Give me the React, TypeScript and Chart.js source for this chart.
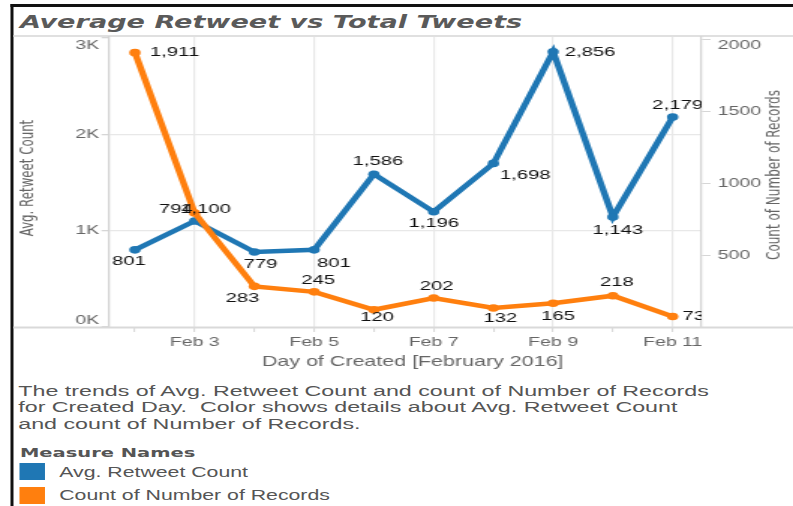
import React, { useEffect, useRef } from 'react';
import { Chart, registerables } from 'chart.js';

Chart.register(...registerables);

// ---- data ----
const days = [2, 3, 4, 5, 6, 7, 8, 9, 10, 11];
const avgRetweet = [801, 1100, 779, 801, 1586, 1196, 1698, 2856, 1143, 2179];
const recordCount = [1911, 794, 283, 245, 120, 202, 132, 165, 218, 73];
const xTickDays = [3, 5, 7, 9, 11];
const monthLabel = 'Feb';
const leftTicks = [0, 1000, 2000, 3000];
const leftTickLabels = ['0K', '1K', '2K', '3K'];
const rightTicks = [500, 1000, 1500, 2000];
const rightTickLabels = ['500', '1000', '1500', '2000'];

const titleText = 'Average Retweet vs Total Tweets';
const xTitle = 'Day of Created [February 2016]';
const yTitle = 'Avg. Retweet Count';
const y1Title = 'Count of Number of Records';
const descLines = [
  'The trends of Avg. Retweet Count and count of Number of Records',
  'for Created Day.  Color shows details about Avg. Retweet Count',
  'and count of Number of Records.',
];
const legendTitle = 'Measure Names';
const seriesNames = ['Avg. Retweet Count', 'Count of Number of Records'];

// label placement (dx, dy) relative to each point
const avgLabelOffsets = [[-4, 11], [7.3, -12], [4, 12], [13.3, 13], [2.7, -13], [0, 12], [21.3, 12], [24.7, 0], [3.3, 13], [3.3, -12]];
const countLabelOffsets = [[26.5, 0], [-12.7, -4], [-8, 12], [2.7, -12], [2, 8], [2, -12], [4.7, 10], [3.3, 13], [2.7, -13], [14, 0]];

const BLUE = '#1f77b4';
const ORANGE = '#ff7f0e';
const W = 529;
const S = 793 / W;
const FONT = '"Liberation Sans", Arial, sans-serif';
const WIDE = '"DejaVu Sans", Verdana, sans-serif';

const clamp = (v: number, a: number, b: number) => Math.max(a, Math.min(b, v));

const overlay = {
  id: 'overlay',
  afterDatasetsDraw(chart: any) {
    const ctx = chart.ctx;
    const a = chart.chartArea;
    ctx.save();
    ctx.beginPath();
    ctx.rect(a.left, a.top, a.right - a.left, a.bottom - a.top);
    ctx.clip();
    ctx.font = `13.5px ${FONT}`;
    ctx.fillStyle = '#111';
    ctx.textAlign = 'center';
    ctx.textBaseline = 'middle';
    chart.data.datasets.forEach((ds: any, di: number) => {
      const meta = chart.getDatasetMeta(di);
      const offs = ds.labelOffsets;
      meta.data.forEach((pt: any, i: number) => {
        const v = ds.data[i].y;
        ctx.fillText(v.toLocaleString('en-US'), pt.x + offs[i][0], pt.y + offs[i][1]);
      });
    });
    ctx.restore();
  },
  afterDraw(chart: any) {
    const ctx = chart.ctx;
    const a = chart.chartArea;
    ctx.save();
    // bottom rule across the whole view
    ctx.fillStyle = '#d9d9d9';
    ctx.fillRect(9, a.bottom - 0.5, W - 9, 2);
    // y tick labels
    ctx.font = `13px ${FONT}`;
    ctx.fillStyle = '#666';
    ctx.textBaseline = 'middle';
    ctx.textAlign = 'right';
    const ys = chart.scales.y;
    leftTicks.forEach((v, i) => {
      const p = clamp(ys.getPixelForValue(v), a.top + 8, a.bottom - 7);
      ctx.fillText(leftTickLabels[i], a.left - 6.5, p);
    });
    ctx.textAlign = 'left';
    const y1 = chart.scales.y1;
    rightTicks.forEach((v, i) => {
      const p = clamp(y1.getPixelForValue(v), a.top + 8, a.bottom - 7);
      ctx.fillText(rightTickLabels[i], a.right + 10.7, p);
    });
    // axis titles
    ctx.textAlign = 'center';
    ctx.font = `14.3px ${FONT}`;
    ctx.fillText(xTitle, 275.3, 362);
    ctx.font = `11.8px ${WIDE}`;
    ctx.save();
    ctx.translate(18.7, 178);
    ctx.rotate(-Math.PI / 2);
    ctx.fillText(yTitle, 0, 0);
    ctx.restore();
    ctx.font = `12px ${WIDE}`;
    ctx.save();
    ctx.translate(516.7, 175);
    ctx.rotate(-Math.PI / 2);
    ctx.fillText(y1Title, 0, 0);
    ctx.restore();
    ctx.restore();
  },
};

export default function App() {
  const ref = useRef<HTMLCanvasElement>(null);
  useEffect(() => {
    const config: any = {
      type: 'line',
      data: {
        datasets: [
          {
            label: seriesNames[0],
            data: days.map((d, i) => ({ x: d, y: avgRetweet[i] })),
            yAxisID: 'y',
            borderColor: BLUE,
            backgroundColor: BLUE,
            pointBackgroundColor: BLUE,
            pointBorderWidth: 0,
            pointRadius: 3.8,
            borderWidth: 4.5,
            tension: 0,
            order: 1,
            labelOffsets: avgLabelOffsets,
          },
          {
            label: seriesNames[1],
            data: days.map((d, i) => ({ x: d, y: recordCount[i] })),
            yAxisID: 'y1',
            borderColor: ORANGE,
            backgroundColor: ORANGE,
            pointBackgroundColor: ORANGE,
            pointBorderWidth: 0,
            pointRadius: 3.8,
            borderWidth: 4.5,
            tension: 0,
            order: 0,
            labelOffsets: countLabelOffsets,
          },
        ],
      },
      options: {
        responsive: false,
        animation: false,
        devicePixelRatio: 1,
        events: [],
        layout: { padding: { left: 9, top: 37, right: 0, bottom: 0 } },
        plugins: { legend: { display: false }, tooltip: { enabled: false }, title: { display: false } },
        scales: {
          x: {
            type: 'linear',
            min: 1.566,
            max: 11.484,
            afterBuildTicks: (s: any) => { s.ticks = days.map((v) => ({ value: v })); },
            afterFit: (s: any) => { s.height = 53; },
            ticks: {
              autoSkip: false,
              maxRotation: 0,
              padding: 3,
              color: '#666',
              font: { size: 13, family: FONT },
              callback: (v: any) => (xTickDays.includes(v) ? `${monthLabel} ${v}` : ''),
            },
            grid: {
              color: (c: any) => (c.tick && xTickDays.includes(c.tick.value) ? '#e8e8e8' : 'rgba(0,0,0,0)'),
              lineWidth: 1.2,
              tickColor: '#d6d6d6',
              tickLength: 5,
              tickWidth: 1,
            },
            border: { display: false },
          },
          y: {
            position: 'left',
            min: 0,
            max: 3010,
            afterBuildTicks: (s: any) => { s.ticks = leftTicks.map((v) => ({ value: v })); },
            afterFit: (s: any) => { s.width = 63.7; },
            ticks: { color: 'rgba(0,0,0,0)', font: { size: 13, family: FONT } },
            grid: {
              color: (c: any) => (c.tick && (c.tick.value === 1000 || c.tick.value === 2000) ? '#e8e8e8' : 'rgba(0,0,0,0)'),
              lineWidth: 1.3,
              tickColor: '#d6d6d6',
              tickLength: 5,
            },
            border: { display: true, color: '#d4d4d4', width: 1.3 },
          },
          y1: {
            position: 'right',
            min: 0,
            max: 2020,
            afterBuildTicks: (s: any) => { s.ticks = rightTicks.map((v) => ({ value: v })); },
            afterFit: (s: any) => { s.width = 61; },
            ticks: { color: 'rgba(0,0,0,0)', font: { size: 13, family: FONT } },
            grid: { drawOnChartArea: false, tickColor: '#d6d6d6', tickLength: 6 },
            border: { display: true, color: '#d4d4d4', width: 1.3 },
          },
        },
      },
      plugins: [overlay],
    };
    const chart = new Chart(ref.current as HTMLCanvasElement, config);
    return () => chart.destroy();
  }, []);

  const textBase: React.CSSProperties = { position: 'absolute', whiteSpace: 'pre', lineHeight: 1, color: '#555' };

  return (
    <div
      style={{
        position: 'absolute', left: 0, top: 0, width: W, height: 506, overflow: 'hidden',
        background: '#fff', transform: `scaleX(${S})`, transformOrigin: '0 0',
      }}
    >
      <div style={{ position: 'absolute', left: 6.8, top: 4.3, width: 2.2, height: 502, background: '#111' }} />
      <div style={{ position: 'absolute', left: 6.8, top: 4.3, right: 0, height: 2.4, background: '#111' }} />
      <div style={{ ...textBase, left: 13.3, top: 12.7, fontFamily: WIDE, fontWeight: 'bold', fontStyle: 'italic', fontSize: 18.1, color: '#5a5a5a' }}>
        {titleText}
      </div>
      <div style={{ position: 'absolute', left: 9, top: 35, right: 0, height: 2, background: '#e0e0e0' }} />
      <canvas
        ref={ref}
        width={W}
        height={380}
        style={{ position: 'absolute', left: 0, top: 0, width: W, height: 380 }}
      />
      {descLines.map((t, i) => (
        <div key={i} style={{ ...textBase, left: 12.2, top: 382.9 + i * 16.5, fontFamily: FONT, fontSize: 15.5 }}>
          {t}
        </div>
      ))}
      <div style={{ ...textBase, left: 13.3, top: 446, fontFamily: WIDE, fontWeight: 'bold', fontSize: 13 }}>
        {legendTitle}
      </div>
      <div style={{ position: 'absolute', left: 12.7, top: 463, width: 17.8, height: 17, background: BLUE }} />
      <div style={{ ...textBase, left: 39.5, top: 465, fontFamily: FONT, fontSize: 14.2 }}>{seriesNames[0]}</div>
      <div style={{ position: 'absolute', left: 12.7, top: 487, width: 17.8, height: 17, background: ORANGE }} />
      <div style={{ ...textBase, left: 39.5, top: 488, fontFamily: FONT, fontSize: 14.2 }}>{seriesNames[1]}</div>
    </div>
  );
}
